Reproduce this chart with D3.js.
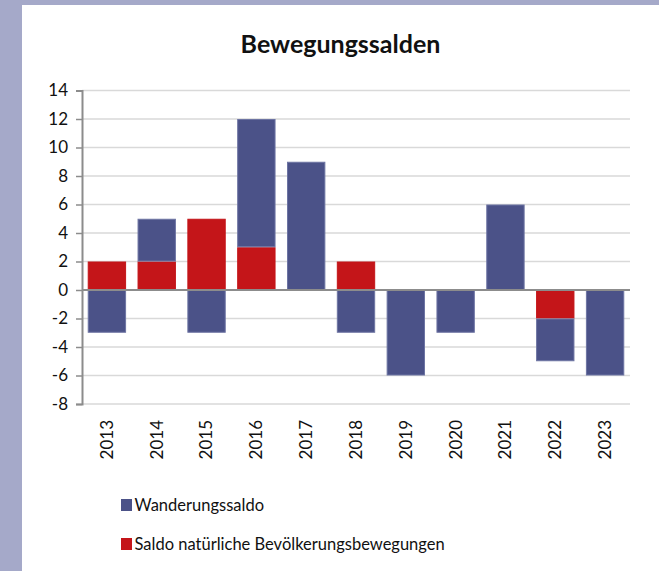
<!DOCTYPE html>
<html>
<head>
<meta charset="utf-8">
<script src="https://cdn.jsdelivr.net/npm/d3@7"></script>
<style>
  body { margin: 0; background: #a5a9c9; }
  svg { display: block; }
  .tick text { font-family: Lato, "Noto Sans", sans-serif; fill: #111; }
</style>
</head>
<body>
<div id="chart"></div>
<script>
// Bewegungssalden, 2013 - 2023
const years = ['2013', '2014', '2015', '2016', '2017', '2018', '2019', '2020', '2021', '2022', '2023'];
const natural = [2, 2, 5, 3, 0, 2, 0, 0, 0, -2, 0];
const migration = [-3, 3, -3, 9, 9, -3, -6, -3, 6, -3, -6];
const yTicks = [-8, -6, -4, -2, 0, 2, 4, 6, 8, 10, 12, 14];
const seriesNames = ['Wanderungssaldo', 'Saldo natürliche Bevölkerungsbewegungen'];

const width = 659, height = 571;
const margin = { top: 90.5, right: 29, bottom: 167, left: 82 };
const colors = { migration: '#4b5288', natural: '#c41519' };

const rows = years.map((y, i) => ({ year: y, natural: natural[i], migration: migration[i] }));

const svg = d3.select('#chart')
    .append('svg')
    .attr('width', width)
    .attr('height', height);

// white panel on the lavender frame
svg.append('rect')
    .attr('x', 22).attr('y', 5)
    .attr('width', width - 22).attr('height', height - 5)
    .attr('fill', '#fff');

svg.append('text')
    .attr('x', 340.5).attr('y', 53)
    .attr('text-anchor', 'middle')
    .style('font-family', 'Lato, "Noto Sans", sans-serif')
    .style('font-weight', 'bold')
    .style('font-size', '25px')
    .attr('fill', '#111')
    .text('Bewegungssalden');

const x = d3.scaleBand()
    .domain(years)
    .range([margin.left, width - margin.right])
    .paddingInner(0.23)
    .paddingOuter(0.115);

const y = d3.scaleLinear()
    .domain([-8, 14])
    .range([height - margin.bottom, margin.top]);

// gridlines
svg.append('g')
    .selectAll('line')
    .data(yTicks)
    .enter()
    .append('line')
    .attr('x1', margin.left).attr('x2', width - margin.right)
    .attr('y1', (d) => y(d)).attr('y2', (d) => y(d))
    .attr('stroke', '#d9d9d9')
    .attr('stroke-width', 1.5);

const stack = d3.stack()
    .keys(['natural', 'migration'])
    .offset(d3.stackOffsetDiverging);

svg.append('g')
    .selectAll('g')
    .data(stack(rows))
    .enter()
    .append('g')
    .attr('fill', (s) => colors[s.key])
    .attr('stroke', (s) => s.key === 'migration' ? '#6d74a3' : '#c41519')
    .attr('stroke-width', 1)
    .selectAll('rect')
    .data((s) => s.filter((d) => d[1] !== d[0]))
    .enter()
    .append('rect')
    .attr('x', (d) => x(d.data.year) + 0.5)
    .attr('width', x.bandwidth() - 1)
    .attr('y', (d) => y(Math.max(d[0], d[1])) + 0.5)
    .attr('height', (d) => Math.abs(y(d[0]) - y(d[1])) - 1);

// zero line
svg.append('line')
    .attr('x1', margin.left).attr('x2', width - margin.right)
    .attr('y1', y(0)).attr('y2', y(0))
    .attr('stroke', '#8c8c8c')
    .attr('stroke-width', 2);

const yAxis = svg.append('g')
    .attr('transform', `translate(${margin.left},0)`)
    .call(d3.axisLeft(y).tickValues(yTicks).tickSize(6).tickPadding(8).tickFormat(d3.format('d')));
yAxis.select('.domain').attr('stroke', '#8c8c8c').attr('stroke-width', 2);
yAxis.selectAll('.tick line').attr('stroke', '#8c8c8c').attr('stroke-width', 1.5);
yAxis.selectAll('.tick text').style('font-size', '17px').text((d) => String(d).replace('−', '-'));

const xAxis = svg.append('g')
    .attr('transform', `translate(0,${height - margin.bottom})`)
    .call(d3.axisBottom(x).tickSize(0));
xAxis.select('.domain').remove();
xAxis.selectAll('.tick text')
    .style('font-size', '17px')
    .attr('transform', 'rotate(-90)')
    .attr('text-anchor', 'end')
    .attr('x', -16)
    .attr('y', 0)
    .attr('dy', '0.35em');

// legend
const legend = svg.append('g')
    .selectAll('g')
    .data(seriesNames)
    .enter()
    .append('g')
    .attr('transform', (d, i) => `translate(121,${499 + i * 39})`);
legend.append('rect')
    .attr('width', 11).attr('height', 12)
    .attr('fill', (d, i) => i === 0 ? colors.migration : colors.natural);
legend.append('text')
    .attr('x', 13.5).attr('y', 6)
    .attr('dy', '0.35em')
    .style('font-family', 'Lato, "Noto Sans", sans-serif')
    .style('font-size', '16.5px')
    .attr('fill', '#111')
    .text((d) => d);
</script>
</body>
</html>
